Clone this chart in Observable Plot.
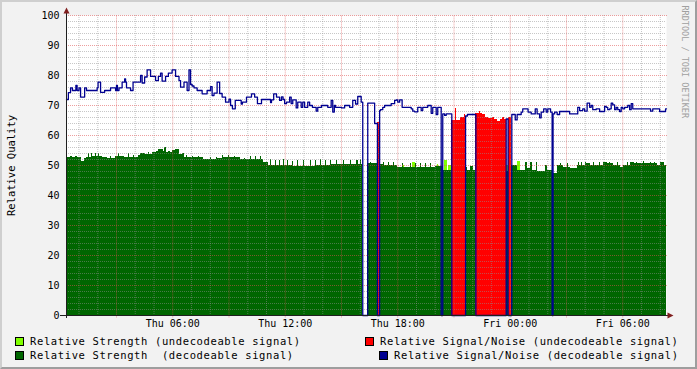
<!DOCTYPE html>
<html>
<head>
<meta charset="utf-8">
<script src="https://cdn.jsdelivr.net/npm/d3@7"></script>
<script src="https://cdn.jsdelivr.net/npm/@observablehq/plot@0.6"></script>
<style>
html, body { margin:0; padding:0; background:#f2f2f2; }
#wrap { position:relative; width:697px; height:369px; background:#f2f2f2; overflow:hidden; }
#chart svg { display:block; position:absolute; left:0; top:0; }
#border { position:absolute; left:0; top:0; width:697px; height:369px; box-sizing:border-box; border:2px solid; border-color:#cfcfcf #9e9e9e #9e9e9e #cfcfcf; pointer-events:none; }
.lg { position:absolute; font-family:"DejaVu Sans Mono", monospace; font-size:10.5px; letter-spacing:0.62px; white-space:pre; line-height:12px; color:#000; }
.sw { position:absolute; width:7px; height:7px; border:1px solid #000; }
g[aria-label="ytitle"] text { letter-spacing:0.7px; }
g[aria-label="watermark"] text { letter-spacing:0.4px; }
</style>
</head>
<body>
<div id="wrap">
  <div id="chart"></div>
  <div id="legend"></div>
  <div id="border"></div>
</div>
<script>
// ---- time window (minutes since Thu 00:00) ----
const START = 20, END = 1940;

// ---- tick labels ----
const xTickMinutes = [360, 720, 1080, 1440, 1800];
const xTickLabels = ["Thu 06:00", "Thu 12:00", "Thu 18:00", "Fri 00:00", "Fri 06:00"];
const yTicks = [0, 10, 20, 30, 40, 50, 60, 70, 80, 90, 100];
const yTitle = "Relative Quality";
const watermark = "RRDTOOL / TOBI OETIKER";

// ---- legend ----
const legendLabels = [
  "Relative Strength (undecodeable signal)",
  "Relative Signal/Noise (undecodeable signal)",
  "Relative Strength  (decodeable signal)",
  "Relative Signal/Noise (decodeable signal)"
];
const legendColors = ["#80ff00", "#ff0000", "#006600", "#000090"];

// ---- series: [minute, value] change points (value holds until next point) ----
const snrDecodeable = [[20,72],[26,74.3],[33,75.9],[39,75],[50,76.7],[54,75],[60,75.9],[65,72.8],[78,75.9],[84,75],[118,75.9],[121,77.8],[129,74.4],[142,75],[161,75.9],[177,75],[180,76.7],[183,75],[188,75.9],[198,77.8],[206,78.9],[209,77.8],[212,75.9],[225,75],[233,77.8],[257,80],[262,77.5],[270,79.5],[278,81.9],[289,79.7],[305,78.3],[314,79.7],[321,80.8],[326,78.1],[337,79.7],[346,80.8],[358,81.9],[369,79.7],[380,78.3],[385,76.1],[396,77.8],[406,75],[412,81.9],[417,77],[422,76.5],[428,75.9],[438,75],[454,73.9],[470,75],[481,76.3],[486,73.3],[492,74.1],[502,77.8],[510,74],[518,72.8],[529,71.1],[540,72.1],[545,70],[551,68.9],[560,71.7],[579,70.5],[583,71.1],[596,72.8],[612,73.9],[622,72.8],[631,70.6],[644,72],[673,71],[676,71.9],[683,73.9],[692,72.8],[702,71.7],[708,72.9],[713,72],[718,70.6],[724,71.1],[734,72.8],[739,70.6],[744,71.9],[755,69.2],[760,71.1],[771,69.4],[776,71.1],[782,69.4],[792,71.1],[798,70],[807,69.4],[819,68.1],[824,69.4],[836,70],[856,69.4],[867,71.7],[872,67.8],[877,70],[881,69.4],[900,69.2],[910,70],[926,69.4],[936,71.7],[945,70.5],[952,73],[963,71.1],[968,0],[984,70.8],[1006,64],[1015,0],[1022,68.3],[1025,68.6],[1032,69.4],[1038,70],[1059,70.6],[1070,71.7],[1075,71.9],[1080,71.1],[1086,71.9],[1094,69.4],[1123,68.9],[1128,68.1],[1134,67.9],[1144,69.4],[1155,68.3],[1160,69.4],[1176,70],[1187,67.4],[1192,69.4],[1203,67],[1208,69.4],[1219,0],[1224,67.2],[1230,66.7],[1235,67.2],[1253,0],[1297,66.5],[1303,67],[1330,0],[1427,65.5],[1433,0],[1445,67],[1456,65.2],[1462,67],[1475,67.8],[1480,68.9],[1497,67.8],[1507,67.2],[1520,68.9],[1526,67.2],[1534,65.9],[1539,67.8],[1547,68.9],[1555,67.8],[1560,68.9],[1569,67.8],[1574,0],[1577,67.2],[1582,67.8],[1590,67],[1598,68],[1630,67.2],[1656,69.4],[1662,68.3],[1672,68.9],[1678,68.1],[1686,70.8],[1694,69.4],[1699,70],[1704,68.6],[1715,68.9],[1726,68],[1742,69.7],[1747,69.4],[1752,68.6],[1758,68.9],[1763,70.8],[1768,70.2],[1774,68.6],[1779,69.4],[1784,68.6],[1790,68],[1795,69.4],[1800,68.9],[1806,69.4],[1816,70],[1822,68.6],[1827,70.6],[1832,68.9],[1889,68.1],[1896,68.9],[1918,68],[1937,68.9]];

const snrUndecodeable = [[1015,64.5],[1022,null],[1253,65],[1265,68.9],[1268,65],[1280,65.9],[1285,66.1],[1293,67],[1297,null],[1330,67.2],[1340,68.1],[1346,67.2],[1351,66.9],[1361,66.1],[1371,65.6],[1383,66.1],[1390,65.3],[1399,64.7],[1409,65.3],[1415,66],[1422,65.4],[1427,null],[1433,65.9],[1445,null]];

const strengthDecodeable = [[20,52.8],[33,53.1],[39,52.8],[49,53.1],[55,52.8],[68,51.2],[78,52.2],[84,52.8],[90,53.9],[94,52.8],[100,53.9],[103,53.1],[113,53.9],[116,53.1],[122,53.9],[126,53.1],[135,52.8],[150,52.2],[161,53.1],[164,52.2],[177,53.1],[186,53.9],[190,53.1],[206,52.8],[218,53.9],[222,52.8],[234,53.3],[238,52.8],[250,53.3],[257,53.9],[273,53.7],[282,54.2],[286,53.7],[295,54.2],[307,54.8],[315,55.2],[331,54.6],[334,55.9],[340,54.4],[346,54.8],[353,54.4],[360,55],[369,55.2],[382,53.7],[391,54],[398,52.6],[404,53.3],[407,52.6],[423,53.1],[426,52.6],[442,53.1],[446,52.6],[458,51.9],[471,52],[481,52.8],[484,52],[500,52.8],[503,52.4],[519,53.3],[522,52.6],[538,53.3],[542,52.6],[558,53],[561,52.6],[577,51.9],[590,52.2],[593,51.9],[609,53],[612,51.9],[625,53],[628,51.9],[641,53],[644,51.9],[651,51.1],[667,50],[672,51.9],[675,50],[688,51.7],[691,50],[701,51.7],[705,50],[714,51.9],[718,50],[727,51.7],[730,50],[743,51.4],[746,49.7],[759,51.7],[762,49.7],[778,51.7],[782,49.7],[801,51.7],[804,49.7],[817,51.7],[820,50],[833,51.9],[836,50],[849,51.7],[852,50],[865,51.7],[868,50.2],[884,51.7],[887,50.2],[906,51.7],[910,50.2],[929,51.7],[932,50.2],[948,51.7],[954,50.2],[961,51.9],[964,50.2],[968,0],[984,50.8],[993,51.1],[996,50.8],[1015,0],[1022,50.3],[1034,51.1],[1037,50],[1050,51.1],[1054,50],[1066,51.1],[1070,50],[1079,49.4],[1095,50.8],[1098,49.4],[1120,50.6],[1124,49.4],[1136,50.6],[1140,49.4],[1153,50.6],[1156,49.4],[1169,50.6],[1172,49.4],[1185,50.8],[1188,49.4],[1201,49.6],[1225,48.3],[1253,0],[1297,49.4],[1303,48.3],[1313,49.6],[1322,48.3],[1330,0],[1427,48],[1433,0],[1445,50],[1464,48.3],[1489,51.1],[1494,48.9],[1505,51.1],[1510,48.3],[1524,51.1],[1528,48.1],[1553,50],[1560,48.3],[1577,47.2],[1590,50],[1601,50.8],[1604,50],[1611,49.4],[1623,50.6],[1626,49.4],[1633,48.9],[1654,50],[1658,51.1],[1661,50],[1668,51.1],[1671,50],[1681,51.1],[1684,50.8],[1697,50],[1706,51.1],[1709,50],[1725,51.1],[1729,50],[1739,51.1],[1750,50.6],[1757,51.1],[1761,50.6],[1771,50],[1783,51.1],[1786,50],[1793,49.4],[1803,50],[1815,51.1],[1818,50],[1825,51.1],[1836,50.6],[1844,51.1],[1848,50.6],[1857,50.8],[1866,51.4],[1870,50.8],[1878,50.6],[1889,51.1],[1892,50.6],[1901,51.1],[1904,50.6],[1910,50],[1921,51.1],[1932,50]];

const strengthUndecodeable = [[1097,50],[1100,null],[1126,51],[1138,null],[1207,50.5],[1210,null],[1230,51.7],[1238,null],[1242,50],[1253,null],[1428,50],[1433,null],[1464,51.5],[1473,null]];

// ---- helpers ----
const BASE = Date.UTC(2024, 0, 4, 0, 0); // a Thursday
const T = m => new Date(BASE + m * 60000);
function segments(pairs) {
  return pairs.map((p, i) => ({t1: p[0], t2: i + 1 < pairs.length ? pairs[i + 1][0] : END, v: p[1]}))
              .filter(d => d.v != null && d.v > 0);
}
const linePts = snrDecodeable.concat([[END, snrDecodeable[snrDecodeable.length - 1][1]]]);

const hours = d3.range(60, END, 60);
const minorX = hours.filter(m => m % 180 !== 0);
const majorX = hours.filter(m => m % 180 === 0);
const minorY = d3.range(2, 100, 2).filter(v => v % 10 !== 0);
const majorY = d3.range(10, 101, 10);

const MONO = "DejaVu Sans Mono";
const rectOpts = (color) => ({x1: d => T(d.t1), x2: d => T(d.t2), y1: 0, y2: "v", fill: color, shapeRendering: "crispEdges"});

const chart = Plot.plot({
  width: 697, height: 333,
  marginLeft: 66, marginRight: 31, marginTop: 15, marginBottom: 18,
  style: {background: "transparent", fontFamily: MONO, fontSize: "10px", color: "#000", overflow: "visible"},
  x: {type: "utc", domain: [T(START), T(END)], axis: null},
  y: {domain: [0, 100], axis: null},
  marks: [
    Plot.frame({fill: "#ffffff", stroke: "none"}),
    Plot.rectY(segments(strengthUndecodeable), rectOpts(legendColors[0])),
    Plot.rectY(segments(strengthDecodeable), rectOpts(legendColors[2])),
    Plot.rectY(segments(snrUndecodeable), rectOpts(legendColors[1])),
    Plot.ruleY(minorY, {stroke: "#8f8f8f", strokeOpacity: 0.5, strokeDasharray: "1,1"}),
    Plot.ruleX(minorX, {x: d => T(d), stroke: "#8f8f8f", strokeOpacity: 0.5, strokeDasharray: "1,1"}),
    Plot.ruleY(majorY, {x1: () => T(START), x2: () => T(END + 6.4), stroke: "#de4f4f", strokeOpacity: 0.55, strokeDasharray: "1,1"}),
    Plot.ruleX(majorX, {x: d => T(d), y1: -0.8, y2: 100, stroke: "#de4f4f", strokeOpacity: 0.55, strokeDasharray: "1,1"}),
    Plot.line(linePts, {x: d => T(d[0]), y: d => d[1], curve: "step-after", stroke: legendColors[3], strokeWidth: 1.3}),
    Plot.text(yTicks, {frameAnchor: "left", y: d => d, text: d => String(d), textAnchor: "end", dx: -7, fontSize: 10, fill: "#000"}),
    Plot.text(xTickMinutes, {x: d => T(d), frameAnchor: "bottom", dy: 11, text: (d, i) => xTickLabels[i], textAnchor: "middle", fontSize: 10, fill: "#000"}),
    Plot.text([yTitle], {frameAnchor: "left", dx: -55, rotate: -90, text: d => d, textAnchor: "middle", fontSize: 10.5, fill: "#000", ariaLabel: "ytitle"}),
    Plot.text([watermark], {frameAnchor: "top-right", dx: 22, dy: -10, rotate: 90, textAnchor: "start", text: d => d, fontSize: 8.5, fill: "#a0a0a0", ariaLabel: "watermark"})
  ]
});

// axes and arrows positioned through the plot's scales
const sx = chart.scale("x"), sy = chart.scale("y");
const xa = sx.apply(T(START)), xb = sx.apply(T(END));
const y0 = sy.apply(0), y1 = sy.apply(100);
const svg = d3.select(chart);
const ax = svg.append("g").attr("aria-label", "axes");
ax.append("line").attr("x1", xa - 6).attr("x2", xb + 3).attr("y1", y0 + 0.5).attr("y2", y0 + 0.5).attr("stroke", "#1f1f1f");
ax.append("line").attr("x1", xa + 0.5).attr("x2", xa + 0.5).attr("y1", y0 + 3).attr("y2", y1 - 5).attr("stroke", "#1f1f1f");
ax.append("path").attr("d", `M${xa - 2.5},${y1 - 1.5}L${xa + 3.5},${y1 - 1.5}L${xa + 0.5},${y1 - 7.5}Z`).attr("fill", "#801f1f");
ax.append("path").attr("d", `M${xb + 1.5},${y0 - 2.5}L${xb + 1.5},${y0 + 3.5}L${xb + 7.5},${y0 + 0.5}Z`).attr("fill", "#801f1f");

document.getElementById("chart").appendChild(chart);

// legend (HTML, below the svg)
const leg = document.getElementById("legend");
const legendLayout = [
  {sq: 15, tx: 30, top: 337},
  {sq: 365, tx: 380, top: 337},
  {sq: 15, tx: 30, top: 351},
  {sq: 379, tx: 394, top: 351}
];
legendLabels.forEach((label, i) => {
  const L = legendLayout[i];
  const s = document.createElement("div");
  s.className = "sw";
  s.style.left = L.sq + "px"; s.style.top = L.top + "px"; s.style.background = legendColors[i];
  leg.appendChild(s);
  const t = document.createElement("div");
  t.className = "lg";
  t.style.left = L.tx + "px"; t.style.top = (L.top - 1.7) + "px";
  t.textContent = label;
  leg.appendChild(t);
});
</script>
</body>
</html>
